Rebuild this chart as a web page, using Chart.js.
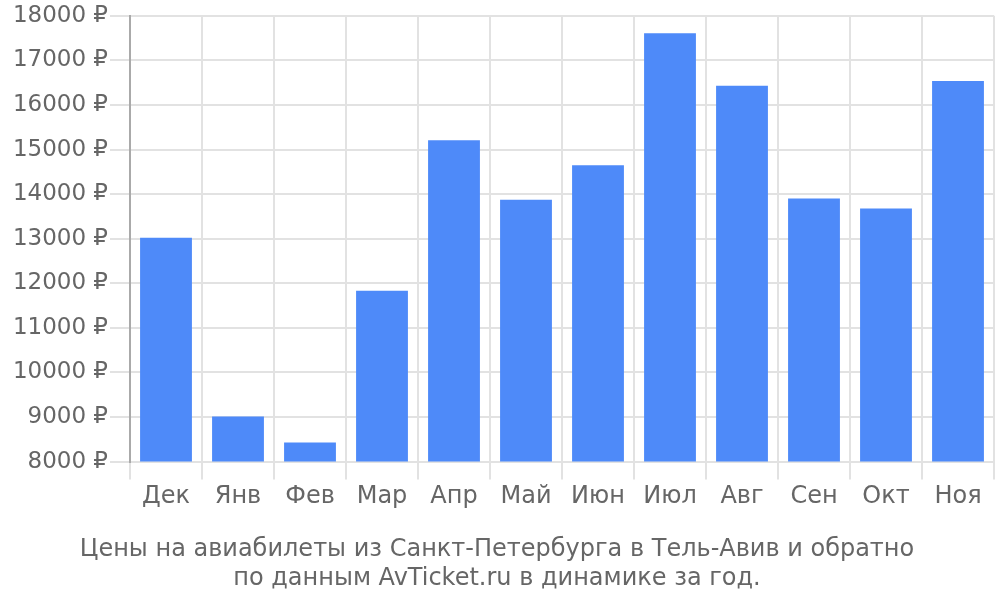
<!DOCTYPE html>
<html>
<head>
<meta charset="utf-8">
<script src="https://cdn.jsdelivr.net/npm/chart.js@4/dist/chart.umd.min.js"></script>
<style>
html,body{margin:0;padding:0;background:#fff;}
#wrap{width:1000px;height:600px;position:relative;}
</style>
</head>
<body>
<div id="wrap"><canvas id="c" width="1000" height="600"></canvas></div>
<script>
const categories = ["Дек","Янв","Фев","Мар","Апр","Май","Июн","Июл","Авг","Сен","Окт","Ноя"];
const prices = [13020, 9010, 8430, 11830, 15210, 13875, 14650, 17610, 16430, 13900, 13675, 16535];
const titleLines = ["Цены на авиабилеты из Санкт-Петербурга в Тель-Авив и обратно", "по данным AvTicket.ru в динамике за год."];
const yMin = 8000, yMax = 18000, yStep = 1000;

Chart.defaults.font.family = "'DejaVu Sans', sans-serif";
Chart.defaults.color = "#666";

new Chart(document.getElementById('c'), {
  type: 'bar',
  data: {
    labels: categories,
    datasets: [{
      data: prices,
      backgroundColor: '#4e8af9',
      borderWidth: 0
    }]
  },
  options: {
    responsive: false,
    animation: false,
    layout: { padding: { top: 2, right: 6, left: 0, bottom: 7 } },
    plugins: {
      legend: { display: false },
      tooltip: { enabled: false },
      title: {
        display: true,
        position: 'bottom',
        text: titleLines,
        color: '#666',
        font: { size: 24, weight: 'normal', lineHeight: 1.2 },
        padding: { top: 21, bottom: 0 }
      }
    },
    scales: {
      x: {
        grid: { color: '#e2e2e2', lineWidth: 2, tickLength: 18, offset: true },
        border: { color: '#e2e2e2', width: 2 },
        ticks: { font: { size: 24 }, color: '#666', padding: 3 }
      },
      y: {
        min: yMin, max: yMax,
        grid: { color: '#e2e2e2', lineWidth: 2, tickLength: 20 },
        border: { color: '#aaa', width: 2 },
        ticks: {
          stepSize: yStep,
          font: { size: 23 }, color: '#666', padding: 2,
          callback: v => v + ' ₽'
        },
        afterFit: s => { s.width = 130; }
      }
    }
  }
});
</script>
</body>
</html>
